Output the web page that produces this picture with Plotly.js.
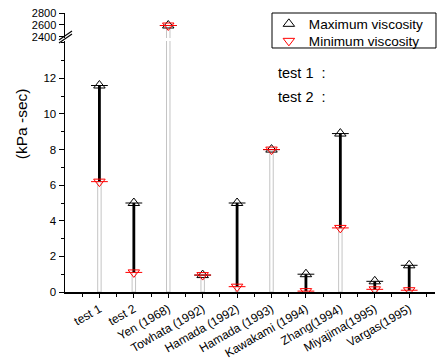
<!DOCTYPE html>
<html><head><meta charset="utf-8">
<script src="https://cdn.plot.ly/plotly-3.0.1.min.js"></script>
<style>body{margin:0;background:#fff}#c{width:438px;height:361px}</style>
</head><body><div id="c"></div>
<script>
const categories = ["test 1","test 2","Yen (1968)","Towhata (1992)","Hamada (1992)","Hamada (1993)","Kawakami (1994)","Zhang(1994)","Miyajima(1995)","Vargas(1995)"];
const maxViscosity = [11.6, 5.0, 2590, 0.95, 5.0, 8.0, 1.0, 8.9, 0.6, 1.5];
const minViscosity = [6.2, 1.1, 2590, 0.95, 0.3, 8.0, 0.05, 3.6, 0.15, 0.1];
const lowerTicks = [0,2,4,6,8,10,12];
const upperTicks = [2400,2600,2800];

const xs = categories.map((_, i) => i);
const segX = [], segY = [];
xs.forEach((x, i) => { segX.push(x, x, null); segY.push(minViscosity[i], maxViscosity[i], null); });

function tracesFor(yaxis, legend) {
  return [
    {type:'bar', x:xs, y:minViscosity, yaxis:yaxis, width:0.1, showlegend:false, hoverinfo:'skip',
     marker:{color:'#ffffff', line:{color:'#c4c4c4', width:1}}},
    {type:'scatter', mode:'lines', x:segX, y:segY, yaxis:yaxis, showlegend:false,
     line:{color:'#000000', width:2.8}},
    {type:'scatter', mode:'markers', x:xs, y:maxViscosity, yaxis:yaxis, name:'Maximum viscosity', showlegend:legend, legend:'legend',
     marker:{symbol:'triangle-up-open', size:10, color:'#000000', line:{width:1, color:'#000000'}}},
    {type:'scatter', mode:'markers', x:xs, y:maxViscosity, yaxis:yaxis, showlegend:false, hoverinfo:'skip',
     marker:{symbol:'line-ew', size:12, line:{width:1, color:'#000000'}}},
    {type:'scatter', mode:'markers', x:xs, y:minViscosity, yaxis:yaxis, name:'Minimum viscosity', showlegend:legend, legend:'legend2',
     marker:{symbol:'triangle-down-open', size:10, color:'#ff0000', line:{width:1, color:'#ff0000'}}},
    {type:'scatter', mode:'markers', x:xs, y:minViscosity, yaxis:yaxis, showlegend:false, hoverinfo:'skip',
     marker:{symbol:'line-ew', size:12, line:{width:1, color:'#ff0000'}}}
  ];
}

const data = tracesFor('y', true).concat(tracesFor('y2', false));
const font = {family:'"Liberation Sans", Arial, sans-serif', size:12, color:'#000'};
const legendCommon = {x:0.551, xanchor:'left', yanchor:'middle', borderwidth:0, bgcolor:'rgba(0,0,0,0)',
  font:{size:13.6}, itemwidth:30};

const layout = {
  width:438, height:361,
  margin:{l:65, r:3, t:13, b:69},
  paper_bgcolor:'#fff', plot_bgcolor:'rgba(0,0,0,0)',
  font:font, showlegend:true, bargap:0,
  xaxis:{range:[-1, 9.75], tickmode:'array', tickvals:xs, ticktext:categories, tickangle:-30,
    showgrid:false, zeroline:false, showline:true, linecolor:'#000', linewidth:1.5,
    ticks:'outside', ticklen:4, tickcolor:'#000', tickfont:{size:12},
    minor:{tickmode:'linear', tick0:0.5, dtick:1, ticks:'outside', ticklen:3, tickcolor:'#000'}},
  yaxis:{domain:[0, 0.8996], range:[0, 14.1], tickmode:'array', tickvals:lowerTicks,
    showgrid:false, zeroline:false, showline:true, linecolor:'#000', linewidth:1.5,
    ticks:'outside', ticklen:5, tickcolor:'#000', tickfont:{size:11.5},
    minor:{tickmode:'linear', tick0:1, dtick:1, ticks:'outside', ticklen:3, tickcolor:'#000'}},
  yaxis2:{domain:[0.9104, 1], range:[2380, 2800], tickmode:'array', tickvals:upperTicks,
    showgrid:false, zeroline:false, showline:true, linecolor:'#000', linewidth:1.5,
    ticks:'outside', ticklen:5, tickcolor:'#000', tickfont:{size:11}, anchor:'x'},
  legend:Object.assign({y:0.9606}, legendCommon),
  legend2:Object.assign({y:0.8996}, legendCommon),
  annotations:[
    {text:'(kPa -sec)', xref:'paper', yref:'paper', x:-0.119, y:0.605, textangle:-90, showarrow:false,
     font:{size:15.5}, xanchor:'center', yanchor:'middle'},
    {text:'test 1\u00a0 :', xref:'paper', yref:'paper', x:0.57, y:0.785, showarrow:false, xanchor:'left', yanchor:'middle', font:{size:14.5}},
    {text:'test 2\u00a0 :', xref:'paper', yref:'paper', x:0.57, y:0.699, showarrow:false, xanchor:'left', yanchor:'middle', font:{size:14.5}}
  ],
  shapes:[
    {type:'rect', xref:'paper', yref:'paper', x0:0.5595, x1:1.0027, y0:0.8746, y1:1.0, line:{color:'#000', width:1}},
    {type:'line', xref:'paper', yref:'paper', x0:-0.0162, y0:0.8925, x1:0.0189, y1:0.9247, line:{color:'#000', width:1.2}},
    {type:'line', xref:'paper', yref:'paper', x0:-0.0162, y0:0.9033, x1:0.0189, y1:0.9355, line:{color:'#000', width:1.2}}
  ]
};
Plotly.newPlot('c', data, layout, {staticPlot:true, displayModeBar:false});
</script></body></html>
